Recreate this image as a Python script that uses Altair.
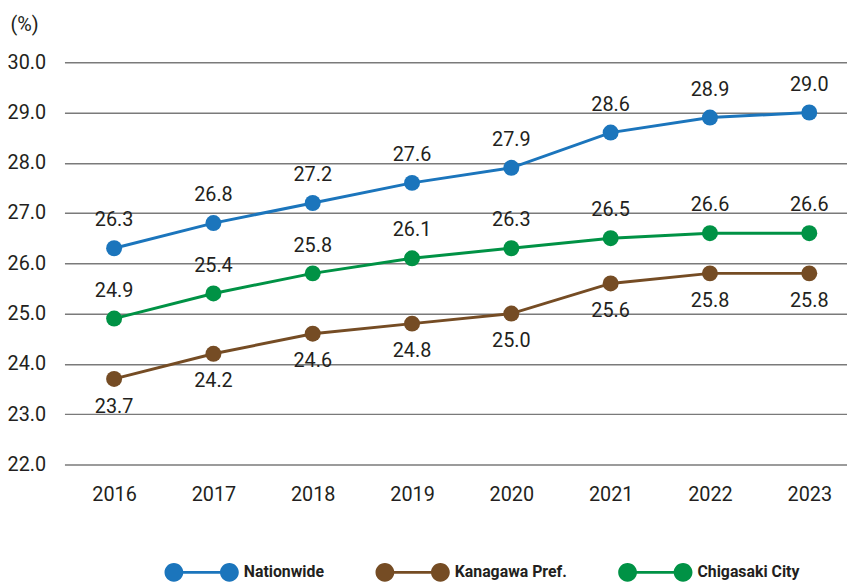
import altair as alt
import pandas as pd

years = [2016, 2017, 2018, 2019, 2020, 2021, 2022, 2023]
nationwide = [26.3, 26.8, 27.2, 27.6, 27.9, 28.6, 28.9, 29.0]
kanagawa = [23.7, 24.2, 24.6, 24.8, 25.0, 25.6, 25.8, 25.8]
chigasaki = [24.9, 25.4, 25.8, 26.1, 26.3, 26.5, 26.6, 26.6]
series_names = ["Nationwide", "Kanagawa Pref.", "Chigasaki City"]
series_colors = ["#1B75BC", "#754C24", "#009245"]
y_ticks = [22, 23, 24, 25, 26, 27, 28, 29, 30]

rows = []
for name, vals in zip(series_names, [nationwide, kanagawa, chigasaki]):
    for yr, v in zip(years, vals):
        rows.append({"year": yr, "value": v, "series": name})
df = pd.DataFrame(rows)

FONT = "Roboto, 'Liberation Sans', sans-serif"
TXT = "#231F20"


def circle_path(cx, r):
    k = 0.5523 * r
    f = lambda v: f"{v:.4f}"
    return (f"M{f(cx + r)},0"
            f"C{f(cx + r)},{f(k)} {f(cx + k)},{f(r)} {f(cx)},{f(r)}"
            f"C{f(cx - k)},{f(r)} {f(cx - r)},{f(k)} {f(cx - r)},0"
            f"C{f(cx - r)},{f(-k)} {f(cx - k)},{f(-r)} {f(cx)},{f(-r)}"
            f"C{f(cx + k)},{f(-r)} {f(cx + r)},{f(-k)} {f(cx + r)},0Z")


legend_path = ("M-0.747,-0.04L0.747,-0.04L0.747,0.04L-0.747,0.04Z"
               + circle_path(-0.747, 0.253) + circle_path(0.747, 0.253))

x = alt.X("year:Q",
          scale=alt.Scale(domain=[2015.5, 2023.38], nice=False, zero=False),
          axis=alt.Axis(values=years, format="d", title=None, grid=False,
                        domain=False, ticks=False, labelFontSize=20,
                        labelFont=FONT, labelColor=TXT, labelPadding=20,
                        labelBaseline="top"))
y = alt.Y("value:Q",
          scale=alt.Scale(domain=[22, 30], nice=False, zero=False),
          axis=alt.Axis(values=y_ticks, format=".1f", title="(%)",
                        titleAngle=0, titleAlign="left", titleBaseline="middle",
                        titleX=-55, titleY=-38, titleFont=FONT, titleFontSize=20,
                        titleFontWeight="normal", titleColor=TXT,
                        grid=True, gridColor="#7a7a7a", gridWidth=1.5,
                        domain=False, ticks=False, labelFontSize=20,
                        labelFont=FONT, labelColor=TXT, labelPadding=19,
                        labelAlign="right"))
color = alt.Color("series:N",
                  scale=alt.Scale(domain=series_names, range=series_colors),
                  legend=alt.Legend(title=None, orient="none", direction="horizontal",
                                    legendX=101, legendY=477.5, padding=0,
                                    symbolType=legend_path, symbolSize=5625,
                                    symbolStrokeWidth=0, labelFont=FONT,
                                    labelFontSize=16, labelFontWeight="bold",
                                    labelColor=TXT, labelOffset=5,
                                    columnPadding=51))

base = alt.Chart(df)
lines = base.mark_line(strokeWidth=3).encode(x=x, y=y, color=color)
points = base.mark_point(filled=True, size=260, opacity=1).encode(x=x, y=y, color=color)

lab_common = dict(fontSize=20, font=FONT, color=TXT, align="center", baseline="middle")
labels_up = base.mark_text(dy=-28, **lab_common).encode(
    x=x, y=y, text=alt.Text("value:Q", format=".1f")
).transform_filter(alt.FieldOneOfPredicate(field="series", oneOf=["Nationwide", "Chigasaki City"]))
labels_down = base.mark_text(dy=28, **lab_common).encode(
    x=x, y=y, text=alt.Text("value:Q", format=".1f")
).transform_filter(alt.FieldEqualPredicate(field="series", equal="Kanagawa Pref."))

chart = alt.layer(lines, points, labels_up, labels_down).properties(
    width=790, height=406,
    autosize=alt.AutoSizeParams(type="none"),
    padding={"left": 57, "top": 52, "right": 0, "bottom": 118},
).configure_view(stroke=None)

chart.save("out.html", embed_options={"renderer": "svg", "actions": False})
